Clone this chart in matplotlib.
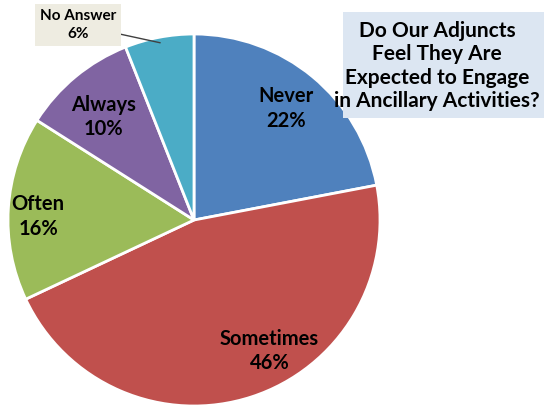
import numpy as np
import matplotlib.pyplot as plt
from matplotlib.patches import Rectangle

labels = ["Never", "Sometimes", "Often", "Always", "No Answer"]
shares = [22, 46, 16, 10, 6]
colors = ["#4F81BD", "#C0504D", "#9BBB59", "#8064A2", "#4BACC6"]
label_dist = [0.78, 0.74, 0.84, 0.76, None]
title = "Do Our Adjuncts\nFeel They Are\nExpected to Engage\nin Ancillary Activities?"

plt.rcParams["font.family"] = ["Lato", "DejaVu Sans"]
plt.rcParams["font.weight"] = "bold"

fig = plt.figure(figsize=(5.44, 4.08), dpi=100)
ax = fig.add_axes([0, 0, 1, 1])

cx, cy, r = 194, 188, 186
wedges, _ = ax.pie(shares, colors=colors, startangle=90, counterclock=False,
                   center=(cx, cy), radius=r, explode=[0, 0.015, 0, 0, 0],
                   wedgeprops=dict(edgecolor="white", linewidth=2))
ax.set_xlim(0, 544)
ax.set_ylim(0, 408)
ax.set_aspect("equal")
ax.axis("off")

for w, lab, val, d in zip(wedges, labels, shares, label_dist):
    if d is None:
        continue
    mid = np.deg2rad((w.theta1 + w.theta2) / 2)
    x = w.center[0] + d * r * np.cos(mid)
    y = w.center[1] + d * r * np.sin(mid)
    if lab == "Sometimes":
        x += 33
    if lab in ("Often", "Always"):
        y -= 6
    ax.text(x, y, f"{lab}\n{val}%", ha="center", va="center", fontsize=14.5,
            fontweight="bold", color="black", linespacing=1.3)

# No Answer label with leader line
w = wedges[4]
mid = np.deg2rad((w.theta1 + w.theta2) / 2)
ex = cx + 0.97 * r * np.cos(mid)
ey = cy + 0.97 * r * np.sin(mid)
ax.annotate(f"{labels[4]}\n{shares[4]}%", xy=(ex, ey), xytext=(78, 383),
            ha="center", va="center", fontsize=11, fontweight="bold",
            linespacing=1.35,
            bbox=dict(boxstyle="square,pad=0.3", fc="#EEECE1", ec="none"),
            arrowprops=dict(arrowstyle="-", color="#404040", lw=1,
                            shrinkA=0, shrinkB=0))

# title box
ax.add_patch(Rectangle((343, 290), 201, 106, fc="#DCE6F2", ec="none", zorder=3))
ax.text(437, 342, title, ha="center", va="center", fontsize=15,
        fontweight="bold", linespacing=1.2, zorder=4)

fig.savefig("out.png", dpi=100)
